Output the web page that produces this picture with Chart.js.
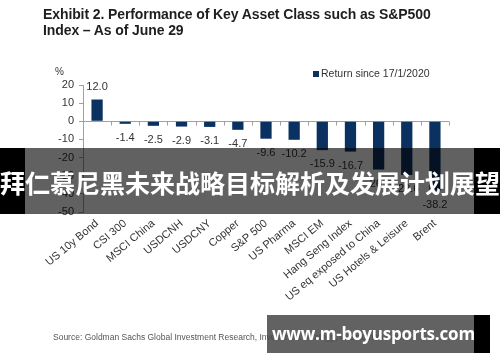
<!DOCTYPE html>
<html>
<head>
<meta charset="utf-8">
<script src="https://cdn.jsdelivr.net/npm/chart.js@4"></script>
<style>
  html, body { margin: 0; padding: 0; background: #fff; }
  body { width: 500px; height: 362px; position: relative; overflow: hidden; font-family: "Liberation Sans", Arial, sans-serif; }
  #c { position: absolute; left: 0; top: 0; }
  .title { position: absolute; left: 43px; top: 6px; font-size: 14px; font-weight: bold; line-height: 16px; color: #1e1e1e; letter-spacing: -0.1px; }
  .pct { position: absolute; left: 55px; top: 66px; font-size: 10px; color: #333; }
  .legend { position: absolute; left: 313px; top: 67px; font-size: 10.5px; color: #333; }
  .legend i { display: inline-block; width: 6px; height: 6px; background: #0b3160; margin-right: 2px; vertical-align: 0px; }
  .source { position: absolute; left: 53px; top: 332px; font-size: 8.5px; color: #555; white-space: nowrap; }
  .banner { position: absolute; left: 0; top: 148px; width: 500px; height: 66px; background: rgba(0,0,0,0.62); }
  .banner .bl { position: absolute; left: 0; top: 0; width: 25px; height: 66px; background: #000; }
  .banner .br { position: absolute; right: 0; top: 0; width: 26px; height: 66px; background: #000; }
  .banner .t { position: absolute; left: 0; top: 19px; width: 500px; text-align: center; font-family: "Noto Sans CJK SC", sans-serif; font-weight: bold; font-size: 25px; line-height: 30px; color: #fff; white-space: nowrap; }
  .wm { position: absolute; left: 267px; top: 315px; width: 207px; height: 38px; background: rgba(70,70,70,0.85); }
  .wm .br { position: absolute; left: 207px; top: 0; width: 16px; height: 38px; background: #000; }
  .wm .t { position: absolute; left: 5px; top: 8px; font-family: "Open Sans", sans-serif; font-weight: bold; font-size: 17px; line-height: 22px; color: #fff; white-space: nowrap; letter-spacing: -0.2px; }
</style>
</head>
<body>
<canvas id="c" width="500" height="362"></canvas>
<div class="title">Exhibit 2. Performance of Key Asset Class such as S&amp;P500<br>Index – As of June 29</div>
<div class="pct">%</div>
<div class="legend"><i></i>Return since 17/1/2020</div>
<div class="source">Source: Goldman Sachs Global Investment Research, Investment Strategy; © Goldman Sachs</div>
<div class="banner"><div class="bl"></div><div class="br"></div><div class="t">拜仁慕尼黑未来战略目标解析及发展计划展望</div></div>
<div class="wm"><div class="br"></div><div class="t">www.m-boyusports.com</div></div>
<script>
const categories = ["US 10y Bond", "CSI 300", "MSCI China", "USDCNH", "USDCNY", "Copper", "S&P 500", "US Pharma", "MSCI EM", "Hang Seng Index", "US eq exposed to China", "US Hotels & Leisure", "Brent"];
const returns = [12.0, -1.4, -2.5, -2.9, -3.1, -4.7, -9.6, -10.2, -15.9, -16.7, -26.6, -29.6, -38.2];
const seriesName = "Return since 17/1/2020";
const yMin = -50, yMax = 20, yStep = 10;

const FONT = "'Liberation Sans', Arial, sans-serif";

const zeroLinePlugin = {
  id: 'zeroLine',
  beforeDatasetsDraw(chart) {
    const { ctx, chartArea, scales } = chart;
    const y0 = Math.round(scales.y.getPixelForValue(0)) + 0.5;
    ctx.save();
    ctx.strokeStyle = '#a0a0a0';
    ctx.lineWidth = 1;
    ctx.beginPath();
    ctx.moveTo(chartArea.left, y0);
    ctx.lineTo(chartArea.right, y0);
    const n = categories.length;
    for (let i = 1; i <= n; i++) {
      const xb = Math.round((scales.x.getPixelForValue(i - 1) + (i < n ? scales.x.getPixelForValue(i) : 2 * scales.x.getPixelForValue(i - 1) - scales.x.getPixelForValue(i - 2))) / 2) + 0.5;
      ctx.moveTo(xb, y0);
      ctx.lineTo(xb, y0 + 4);
    }
    ctx.stroke();
    ctx.restore();
  }
};

const labelPlugin = {
  id: 'valueLabels',
  afterDatasetsDraw(chart) {
    const { ctx } = chart;
    const meta = chart.getDatasetMeta(0);
    ctx.save();
    ctx.font = "11px " + FONT;
    ctx.fillStyle = '#333';
    ctx.textAlign = 'center';
    ctx.textBaseline = 'middle';
    meta.data.forEach((bar, i) => {
      const v = returns[i];
      const y = v >= 0 ? bar.y - 13 : bar.y + 14;
      ctx.fillText(v.toFixed(1), bar.x, y);
    });
    ctx.restore();
  }
};

new Chart(document.getElementById('c'), {
  type: 'bar',
  data: {
    labels: categories,
    datasets: [{
      label: seriesName,
      data: returns,
      backgroundColor: '#0b3160',
      borderWidth: 0,
      barPercentage: 0.4,
      categoryPercentage: 1.0
    }]
  },
  options: {
    responsive: false,
    animation: false,
    devicePixelRatio: 1,
    layout: { padding: { top: 85, right: 51, left: 0, bottom: 0 } },
    plugins: { legend: { display: false }, tooltip: { enabled: false }, title: { display: false } },
    scales: {
      x: {
        grid: { display: false },
        border: { display: false },
        ticks: {
          color: '#333',
          font: { size: 11, family: FONT },
          minRotation: 40,
          maxRotation: 40,
          autoSkip: false,
          padding: -3
        },
        afterFit(s) { s.height = 150; }
      },
      y: {
        min: yMin,
        max: yMax,
        ticks: {
          stepSize: yStep,
          color: '#333',
          font: { size: 11, family: FONT },
          padding: 5
        },
        grid: { drawOnChartArea: false, drawTicks: true, tickLength: 4, color: '#a0a0a0' },
        border: { display: true, color: '#a0a0a0' },
        afterFit(s) { s.width = 83; }
      }
    }
  },
  plugins: [zeroLinePlugin, labelPlugin]
});
</script>
</body>
</html>
